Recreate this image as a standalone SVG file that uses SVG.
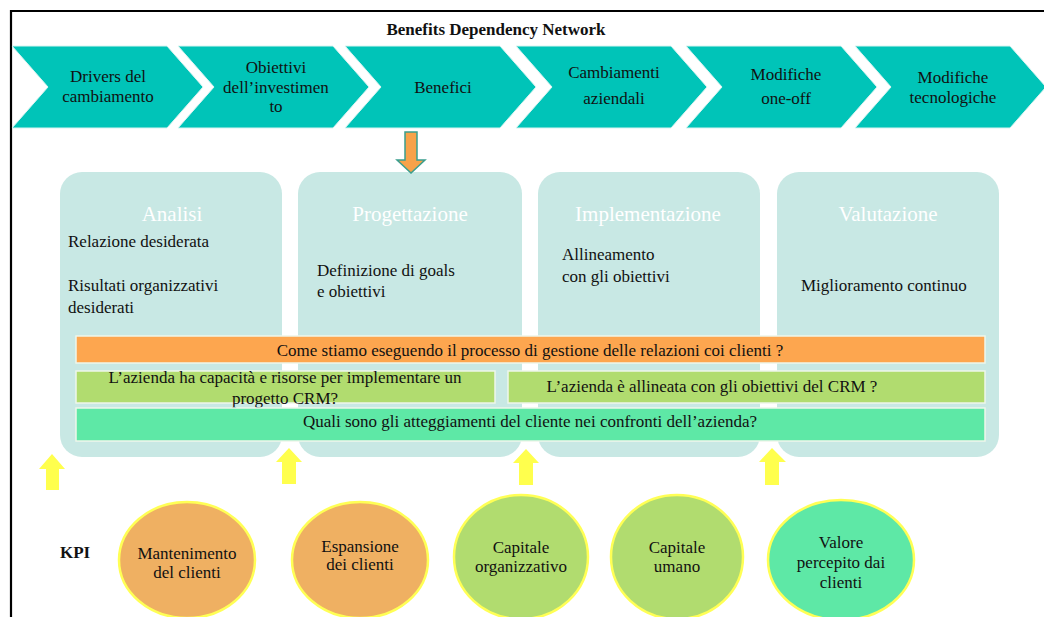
<svg xmlns="http://www.w3.org/2000/svg" width="1044" height="617" viewBox="0 0 1044 617">
  <style>
    .t { font-family: "Liberation Serif", "Times New Roman", serif; fill: #111; }
    .chev { fill: #00C4B8; stroke: #d8f4f1; stroke-width: 1; }
    .phase { fill: #C8E8E4; }
    .ptitle { font-family: "Liberation Serif", "Times New Roman", serif; fill: #ffffff; font-size: 21px; text-anchor: middle; }
    .band { stroke: #eef6ea; stroke-width: 1.5; }
    .up { fill: #FFFF4D; }
    .kpi { stroke: #FFFF55; stroke-width: 2.5; }
  </style>

  <!-- frame -->
  <g id="frame" stroke="#000" stroke-width="2.2" fill="none">
    <line x1="10" y1="11" x2="1044" y2="11"/>
    <line x1="11" y1="10" x2="11" y2="617"/>
  </g>

  <text id="title" class="t" x="496" y="35" font-size="17" font-weight="bold" text-anchor="middle">Benefits Dependency Network</text>

  <!-- process chevrons -->
  <g id="chevron-drivers">
    <polygon class="chev" points="12,46 167,46 203,87 167,128 12,128 48,87"/>
    <text class="t" font-size="17" text-anchor="middle" x="108" y="82">Drivers del</text>
    <text class="t" font-size="17" text-anchor="middle" x="108" y="102">cambiamento</text>
  </g>
  <g id="chevron-obiettivi">
    <polygon class="chev" points="178,46 333,46 369,87 333,128 178,128 214,87"/>
    <text class="t" font-size="17" text-anchor="middle" x="276" y="73">Obiettivi</text>
    <text class="t" font-size="17" text-anchor="middle" x="276" y="93">dell’investimen</text>
    <text class="t" font-size="17" text-anchor="middle" x="276" y="112">to</text>
  </g>
  <g id="chevron-benefici">
    <polygon class="chev" points="345,46 500,46 536,87 500,128 345,128 381,87"/>
    <text class="t" font-size="17" text-anchor="middle" x="443" y="93">Benefici</text>
  </g>
  <g id="chevron-cambiamenti">
    <polygon class="chev" points="516,46 671,46 707,87 671,128 516,128 552,87"/>
    <text class="t" font-size="17" text-anchor="middle" x="614" y="78">Cambiamenti</text>
    <text class="t" font-size="17" text-anchor="middle" x="614" y="104">aziendali</text>
  </g>
  <g id="chevron-oneoff">
    <polygon class="chev" points="686,46 841,46 877,87 841,128 686,128 722,87"/>
    <text class="t" font-size="17" text-anchor="middle" x="786" y="80">Modifiche</text>
    <text class="t" font-size="17" text-anchor="middle" x="786" y="104">one-off</text>
  </g>
  <g id="chevron-tecnologiche">
    <polygon class="chev" points="855,46 1010,46 1046,87 1010,128 855,128 891,87"/>
    <text class="t" font-size="17" text-anchor="middle" x="953" y="83">Modifiche</text>
    <text class="t" font-size="17" text-anchor="middle" x="953" y="103">tecnologiche</text>
  </g>

  <!-- phase boxes -->
  <g id="phase-analisi">
    <rect class="phase" x="60" y="172" width="222" height="285" rx="22"/>
    <text class="ptitle" x="172" y="221">Analisi</text>
    <text class="t" font-size="17" x="68" y="247">Relazione desiderata</text>
    <text class="t" font-size="17" x="68" y="291">Risultati organizzativi</text>
    <text class="t" font-size="17" x="68" y="313">desiderati</text>
  </g>
  <g id="phase-progettazione">
    <rect class="phase" x="298" y="172" width="224" height="285" rx="22"/>
    <text class="ptitle" x="410" y="221">Progettazione</text>
    <text class="t" font-size="17" x="317" y="276">Definizione di goals</text>
    <text class="t" font-size="17" x="317" y="297">e obiettivi</text>
  </g>
  <g id="phase-implementazione">
    <rect class="phase" x="538" y="172" width="222" height="285" rx="22"/>
    <text class="ptitle" x="648" y="221">Implementazione</text>
    <text class="t" font-size="17" x="562" y="260">Allineamento</text>
    <text class="t" font-size="17" x="562" y="282">con gli obiettivi</text>
  </g>
  <g id="phase-valutazione">
    <rect class="phase" x="777" y="172" width="222" height="285" rx="22"/>
    <text class="ptitle" x="888" y="221">Valutazione</text>
    <text class="t" font-size="17" x="801" y="291">Miglioramento continuo</text>
  </g>

  <!-- question bands -->
  <g id="band-processo">
    <rect class="band" x="76" y="336" width="909" height="27" fill="#FDA64F"/>
    <text class="t" font-size="17" text-anchor="middle" x="530" y="356">Come stiamo eseguendo il processo di gestione delle relazioni coi clienti ?</text>
  </g>
  <g id="band-capacita">
    <rect class="band" x="76" y="371" width="419" height="32" fill="#B1DC6F"/>
    <text class="t" font-size="17" text-anchor="middle" x="285" y="383">L’azienda ha capacità e risorse per implementare un</text>
    <text class="t" font-size="17" text-anchor="middle" x="285" y="404">progetto CRM?</text>
  </g>
  <g id="band-allineamento">
    <rect class="band" x="508" y="371" width="477" height="32" fill="#B1DC6F"/>
    <text class="t" font-size="17" text-anchor="middle" x="712" y="392">L’azienda è allineata con gli obiettivi del CRM ?</text>
  </g>
  <g id="band-atteggiamenti">
    <rect class="band" x="76" y="408" width="909" height="33" fill="#5EE8A6"/>
    <text class="t" font-size="17" text-anchor="middle" x="530" y="427">Quali sono gli atteggiamenti del cliente nei confronti dell’azienda?</text>
  </g>

  <!-- connectors -->
  <g id="connectors">
    <polygon points="405,132 417,132 417,160 425,160 411,173 397,160 405,160" fill="#F7A24A" stroke="#3A9E8E" stroke-width="1.5"/>
    <polygon class="up" points="52,454 65,469 59,469 59,490 46,490 46,469 39,469"/>
    <polygon class="up" points="289,448 302,462 296,462 296,484 282,484 282,462 276,462"/>
    <polygon class="up" points="526,449 539,463 533,463 533,485 519,485 519,463 513,463"/>
    <polygon class="up" points="772,448 786,462 779,462 779,485 765,485 765,462 759,462"/>
  </g>

  <text id="kpi-label" class="t" font-size="17" font-weight="bold" x="60" y="558">KPI</text>

  <!-- KPI circles -->
  <g id="kpi-mantenimento">
    <ellipse class="kpi" cx="187" cy="560" rx="68" ry="58" fill="#EFB062"/>
    <text class="t" font-size="17" text-anchor="middle" x="187" y="559">Mantenimento</text>
    <text class="t" font-size="17" text-anchor="middle" x="187" y="578">del clienti</text>
  </g>
  <g id="kpi-espansione">
    <ellipse class="kpi" cx="360" cy="560" rx="68" ry="58" fill="#EFB062"/>
    <text class="t" font-size="17" text-anchor="middle" x="360" y="552">Espansione</text>
    <text class="t" font-size="17" text-anchor="middle" x="360" y="570">dei clienti</text>
  </g>
  <g id="kpi-capitale-organizzativo">
    <ellipse class="kpi" cx="521" cy="557" rx="67" ry="62" fill="#B1DC6F"/>
    <text class="t" font-size="17" text-anchor="middle" x="521" y="553">Capitale</text>
    <text class="t" font-size="17" text-anchor="middle" x="521" y="572">organizzativo</text>
  </g>
  <g id="kpi-capitale-umano">
    <ellipse class="kpi" cx="677" cy="557" rx="66" ry="62" fill="#B1DC6F"/>
    <text class="t" font-size="17" text-anchor="middle" x="677" y="553">Capitale</text>
    <text class="t" font-size="17" text-anchor="middle" x="677" y="572">umano</text>
  </g>
  <g id="kpi-valore">
    <ellipse class="kpi" cx="841" cy="560" rx="73" ry="60" fill="#5EE8A6"/>
    <text class="t" font-size="17" text-anchor="middle" x="841" y="548">Valore</text>
    <text class="t" font-size="17" text-anchor="middle" x="841" y="568">percepito dai</text>
    <text class="t" font-size="17" text-anchor="middle" x="841" y="588">clienti</text>
  </g>
</svg>
